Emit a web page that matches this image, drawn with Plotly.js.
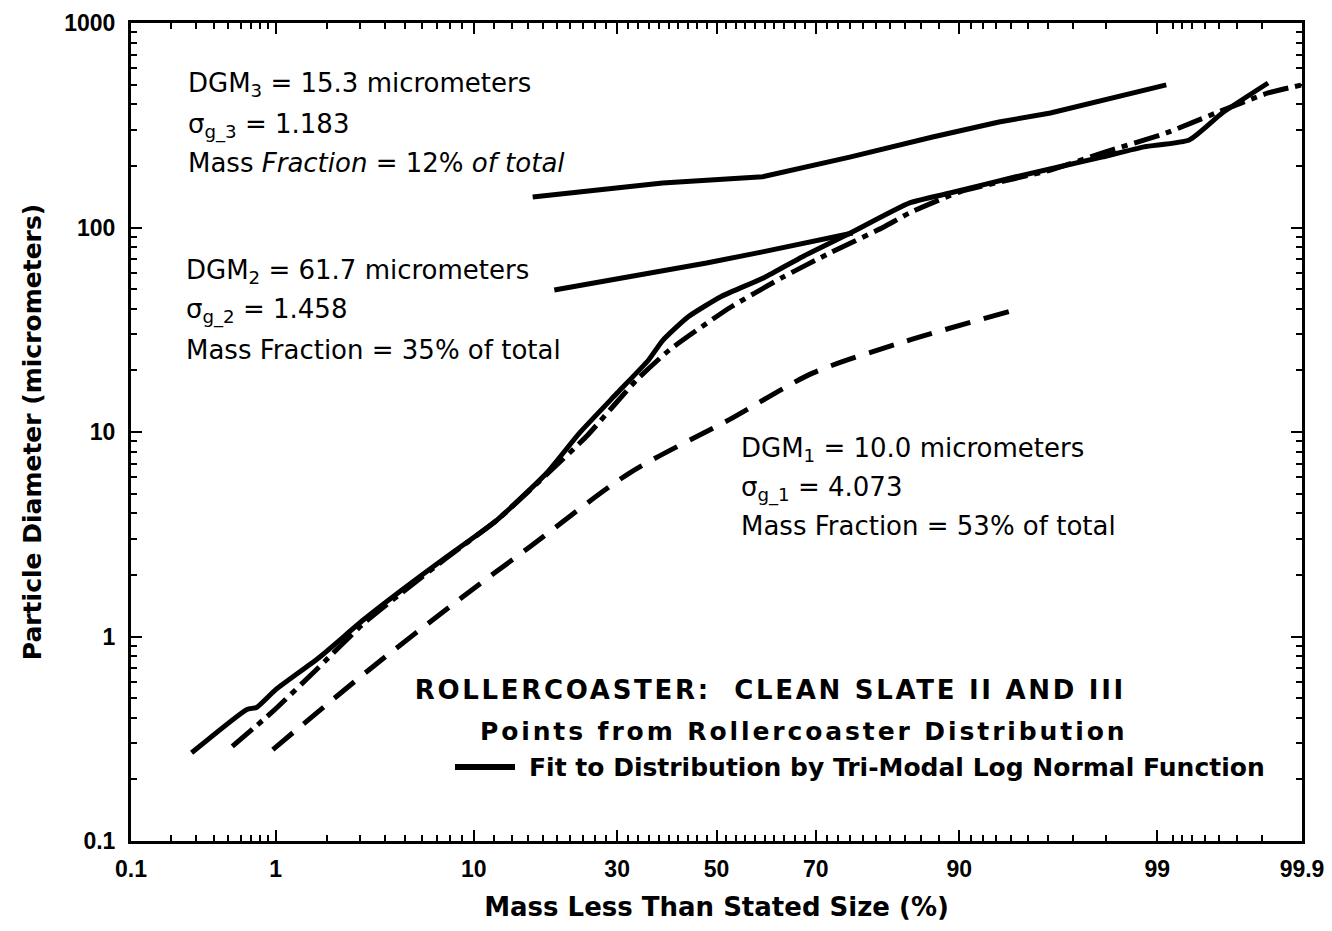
<!DOCTYPE html>
<html>
<head>
<meta charset="utf-8">
<script src="https://cdn.plot.ly/plotly-3.0.1.min.js"></script>
<style>
  html, body { margin: 0; padding: 0; background: #ffffff; }
  #chart { width: 1332px; height: 931px; }
</style>
</head>
<body>
<div id="chart"></div>
<script>
// Cumulative mass (%) vs. particle diameter (micrometers)
const measuredPct  = [0.28, 0.66, 0.76, 1.0, 1.8, 3.1, 4.7, 7.7, 12.3, 18.5, 23.5, 30, 36, 38.8, 44, 51, 60, 67.5, 76, 84.6, 89, 94.3, 97.9, 98.8, 99.37, 99.62, 99.82];
const measuredDiam = [0.27, 0.44, 0.45, 0.55, 0.79, 1.2, 1.65, 2.45, 3.7, 6.3, 9.9, 15.5, 22.5, 28, 36.5, 46, 57, 72, 94, 132, 147, 177, 221, 248, 268, 363, 509];

// Tri-modal log-normal fit
const fitPct  = [0.53, 0.96, 1.74, 3.1, 4.7, 7.7, 12.3, 18.5, 24.6, 33.6, 40.2, 52.7, 63.6, 72.5, 81, 84.6, 90, 96.1, 97.9, 99.12, 99.58, 99.82, 99.9];
const fitDiam = [0.29, 0.43, 0.69, 1.15, 1.6, 2.42, 3.7, 6.2, 9.5, 17.9, 25.2, 40.4, 57, 75, 100, 118, 149, 191, 231, 290, 363, 455, 498];

// Individual modes
const mode1Pct  = [0.96, 3.35, 9.0, 16.2, 32.3, 52.7, 69.4, 83.3, 94.2];
const mode1Diam = [0.28, 0.69, 1.56, 2.74, 6.3, 11.5, 19.4, 27.2, 39.5];
const mode2Pct  = [19.6, 47.9, 59.6, 76.4];
const mode2Diam = [49.5, 67, 76, 94];
const mode3Pct  = [16.6, 38.8, 59.6, 75.9, 87.3, 93.2, 96.1, 99.12];
const mode3Diam = [141, 165, 177, 221, 277, 328, 363, 498];

// Probability-scale axis ticks (%)
const xTickPct  = [0.1, 1, 10, 30, 50, 70, 90, 99, 99.9];
const xTickText = ['0.1', '1', '10', '30', '50', '70', '90', '99', '99.9'];
const xMinorPct = [0.2, 0.3, 0.4, 0.5, 0.6, 0.7, 0.8, 0.9,
                   2, 3, 4, 5, 6, 7, 8, 9,
                   12, 14, 16, 18, 20, 22, 24, 26, 28,
                   32, 34, 36, 38, 40, 42, 44, 46, 48,
                   52, 54, 56, 58, 60, 62, 64, 66, 68,
                   72, 74, 76, 78, 80, 82, 84, 86, 88,
                   91, 92, 93, 94, 95, 96, 97, 98,
                   99.2, 99.3, 99.4, 99.5, 99.6, 99.7, 99.8];
const yTickVals = [0.1, 1, 10, 100, 1000];
const yTickText = ['0.1', '1', '10', '100', '1000'];
const yMinorVals = [0.2, 0.3, 0.4, 0.5, 0.6, 0.7, 0.8, 0.9,
                    2, 3, 4, 5, 6, 7, 8, 9,
                    20, 30, 40, 50, 60, 70, 80, 90,
                    200, 300, 400, 500, 600, 700, 800, 900];

// Inverse standard normal CDF (Acklam), used to place percentages on a probability scale
function probit(pct) {
  const p = pct / 100;
  const a = [-3.969683028665376e+01, 2.209460984245205e+02, -2.759285104469687e+02, 1.383577518672690e+02, -3.066479806614716e+01, 2.506628277459239e+00];
  const b = [-5.447609879822406e+01, 1.615858368580409e+02, -1.556989798598866e+02, 6.680131188771972e+01, -1.328068155288572e+01];
  const c = [-7.784894002430293e-03, -3.223964580411365e-01, -2.400758277161838e+00, -2.549732539343734e+00, 4.374664141464968e+00, 2.938163982698783e+00];
  const d = [7.784695709041462e-03, 3.224671290700398e-01, 2.445134137142996e+00, 3.754408661907416e+00];
  const pl = 0.02425;
  let q, r;
  if (p < pl) {
    q = Math.sqrt(-2 * Math.log(p));
    return (((((c[0]*q+c[1])*q+c[2])*q+c[3])*q+c[4])*q+c[5]) / ((((d[0]*q+d[1])*q+d[2])*q+d[3])*q+1);
  } else if (p <= 1 - pl) {
    q = p - 0.5; r = q * q;
    return (((((a[0]*r+a[1])*r+a[2])*r+a[3])*r+a[4])*r+a[5])*q / (((((b[0]*r+b[1])*r+b[2])*r+b[3])*r+b[4])*r+1);
  } else {
    q = Math.sqrt(-2 * Math.log(1 - p));
    return -(((((c[0]*q+c[1])*q+c[2])*q+c[3])*q+c[4])*q+c[5]) / ((((d[0]*q+d[1])*q+d[2])*q+d[3])*q+1);
  }
}
const toZ = arr => arr.map(probit);

const LW = 5;
const traces = [
  { name: 'Points from Rollercoaster Distribution', x: toZ(measuredPct), y: measuredDiam,
    mode: 'lines', line: { color: '#000', width: LW, shape: 'spline', smoothing: 0.5 } },
  { name: 'Fit to Distribution by Tri-Modal Log Normal Function', x: toZ(fitPct), y: fitDiam,
    mode: 'lines', line: { color: '#000', width: LW, shape: 'spline', smoothing: 0.5, dash: '26px,7px,6px,7px' } },
  { name: 'Mode 1', x: toZ(mode1Pct), y: mode1Diam,
    mode: 'lines', line: { color: '#000', width: LW, shape: 'spline', smoothing: 0.8, dash: '26px,14px' } },
  { name: 'Mode 2', x: toZ(mode2Pct), y: mode2Diam,
    mode: 'lines', line: { color: '#000', width: LW } },
  { name: 'Mode 3', x: toZ(mode3Pct), y: mode3Diam,
    mode: 'lines', line: { color: '#000', width: LW } }
];

// Plot-area geometry in pixels, for placing text
const L = 131, R = 1302, T = 23, B = 841;
const px = v => (v - L) / (R - L);
const py = v => (B - v) / (B - T);

const plain = { family: 'DejaVu Sans, Liberation Sans, Arial, sans-serif', size: 26, color: '#000' };
const heavy = (size) => ({ family: 'DejaVu Sans, Liberation Sans, Arial, sans-serif', size: size, color: '#000', weight: 700 });

function note(text, x, y, font, anchor) {
  return { text: text, xref: 'paper', yref: 'paper', x: px(x), y: py(y),
           xanchor: anchor || 'left', yanchor: 'middle', showarrow: false, font: font };
}

const annotations = [
  note('DGM<sub>3</sub> = 15.3 micrometers', 186, 85, plain),
  note('σ<sub>g_3</sub> = 1.183', 186, 126, plain),
  note('Mass <i>Fraction</i> = 12% <i>of total</i>', 186, 163, plain),
  note('DGM<sub>2</sub> = 61.7 micrometers', 184, 271, plain),
  note('σ<sub>g_2</sub> = 1.458', 184, 311, plain),
  note('Mass Fraction = 35% of total', 184, 350, plain),
  note('DGM<sub>1</sub> = 10.0 micrometers', 739, 449, plain),
  note('σ<sub>g_1</sub> = 4.073', 739, 489, plain),
  note('Mass Fraction = 53% of total', 739, 526, plain),
  note('ROLLERCOASTER:\u00a0 CLEAN SLATE II AND III', 770, 690, heavy(26), 'center'),
  note('Points from Rollercoaster Distribution', 803, 731, heavy(25), 'center'),
  note('Fit to Distribution by Tri-Modal Log Normal Function', 527, 767, heavy(25))
];
const spaced = { 9: '2.7px', 10: '2.9px' };

const axisCommon = {
  showline: true, linecolor: '#000', linewidth: 3, mirror: 'allticks',
  ticks: 'inside', ticklen: 11, tickwidth: 2, tickcolor: '#000',
  showgrid: false, zeroline: false,
  tickfont: { family: 'Liberation Sans, Arial, sans-serif', size: 23, color: '#000', weight: 700 }
};

const layout = {
  width: 1332, height: 931,
  margin: { l: L, r: 1332 - R, t: T, b: 931 - B },
  paper_bgcolor: '#fff', plot_bgcolor: '#fff',
  showlegend: false,
  xaxis: Object.assign({}, axisCommon, {
    type: 'linear',
    range: [probit(0.1), probit(99.9)],
    tickmode: 'array', tickvals: toZ(xTickPct), ticktext: xTickText,
    ticklabelstandoff: 5,
    minor: { ticks: 'inside', ticklen: 6, tickwidth: 2, tickcolor: '#000',
             tickmode: 'array', tickvals: toZ(xMinorPct), showgrid: false },
    title: { text: 'Mass Less Than Stated Size (%)', standoff: 18,
             font: { family: 'DejaVu Sans, Arial, sans-serif', size: 26, color: '#000', weight: 700 } }
  }),
  yaxis: Object.assign({}, axisCommon, {
    type: 'log',
    range: [-1, 3],
    tickmode: 'array', tickvals: yTickVals, ticktext: yTickText,
    ticklabelstandoff: 8,
    minor: { ticks: 'inside', ticklen: 6, tickwidth: 2, tickcolor: '#000',
             tickmode: 'array', tickvals: yMinorVals, showgrid: false },
    title: { text: 'Particle Diameter (micrometers)', standoff: 16,
             font: { family: 'DejaVu Sans, Arial, sans-serif', size: 25, color: '#000', weight: 700 } }
  }),
  annotations: annotations,
  shapes: [
    // legend key for the fit line
    { type: 'line', xref: 'paper', yref: 'paper', x0: px(455), x1: px(515), y0: py(767), y1: py(767),
      line: { color: '#000', width: 6 } }
  ]
};

Plotly.newPlot('chart', traces, layout, { staticPlot: true, displayModeBar: false }).then(gd => {
  const groups = gd.querySelectorAll('.annotation');
  groups.forEach(g => {
    const idx = g.getAttribute('data-index');
    if (spaced[idx]) {
      const t = g.querySelector('text');
      if (t) t.style.letterSpacing = spaced[idx];
    }
  });
});
</script>
</body>
</html>
